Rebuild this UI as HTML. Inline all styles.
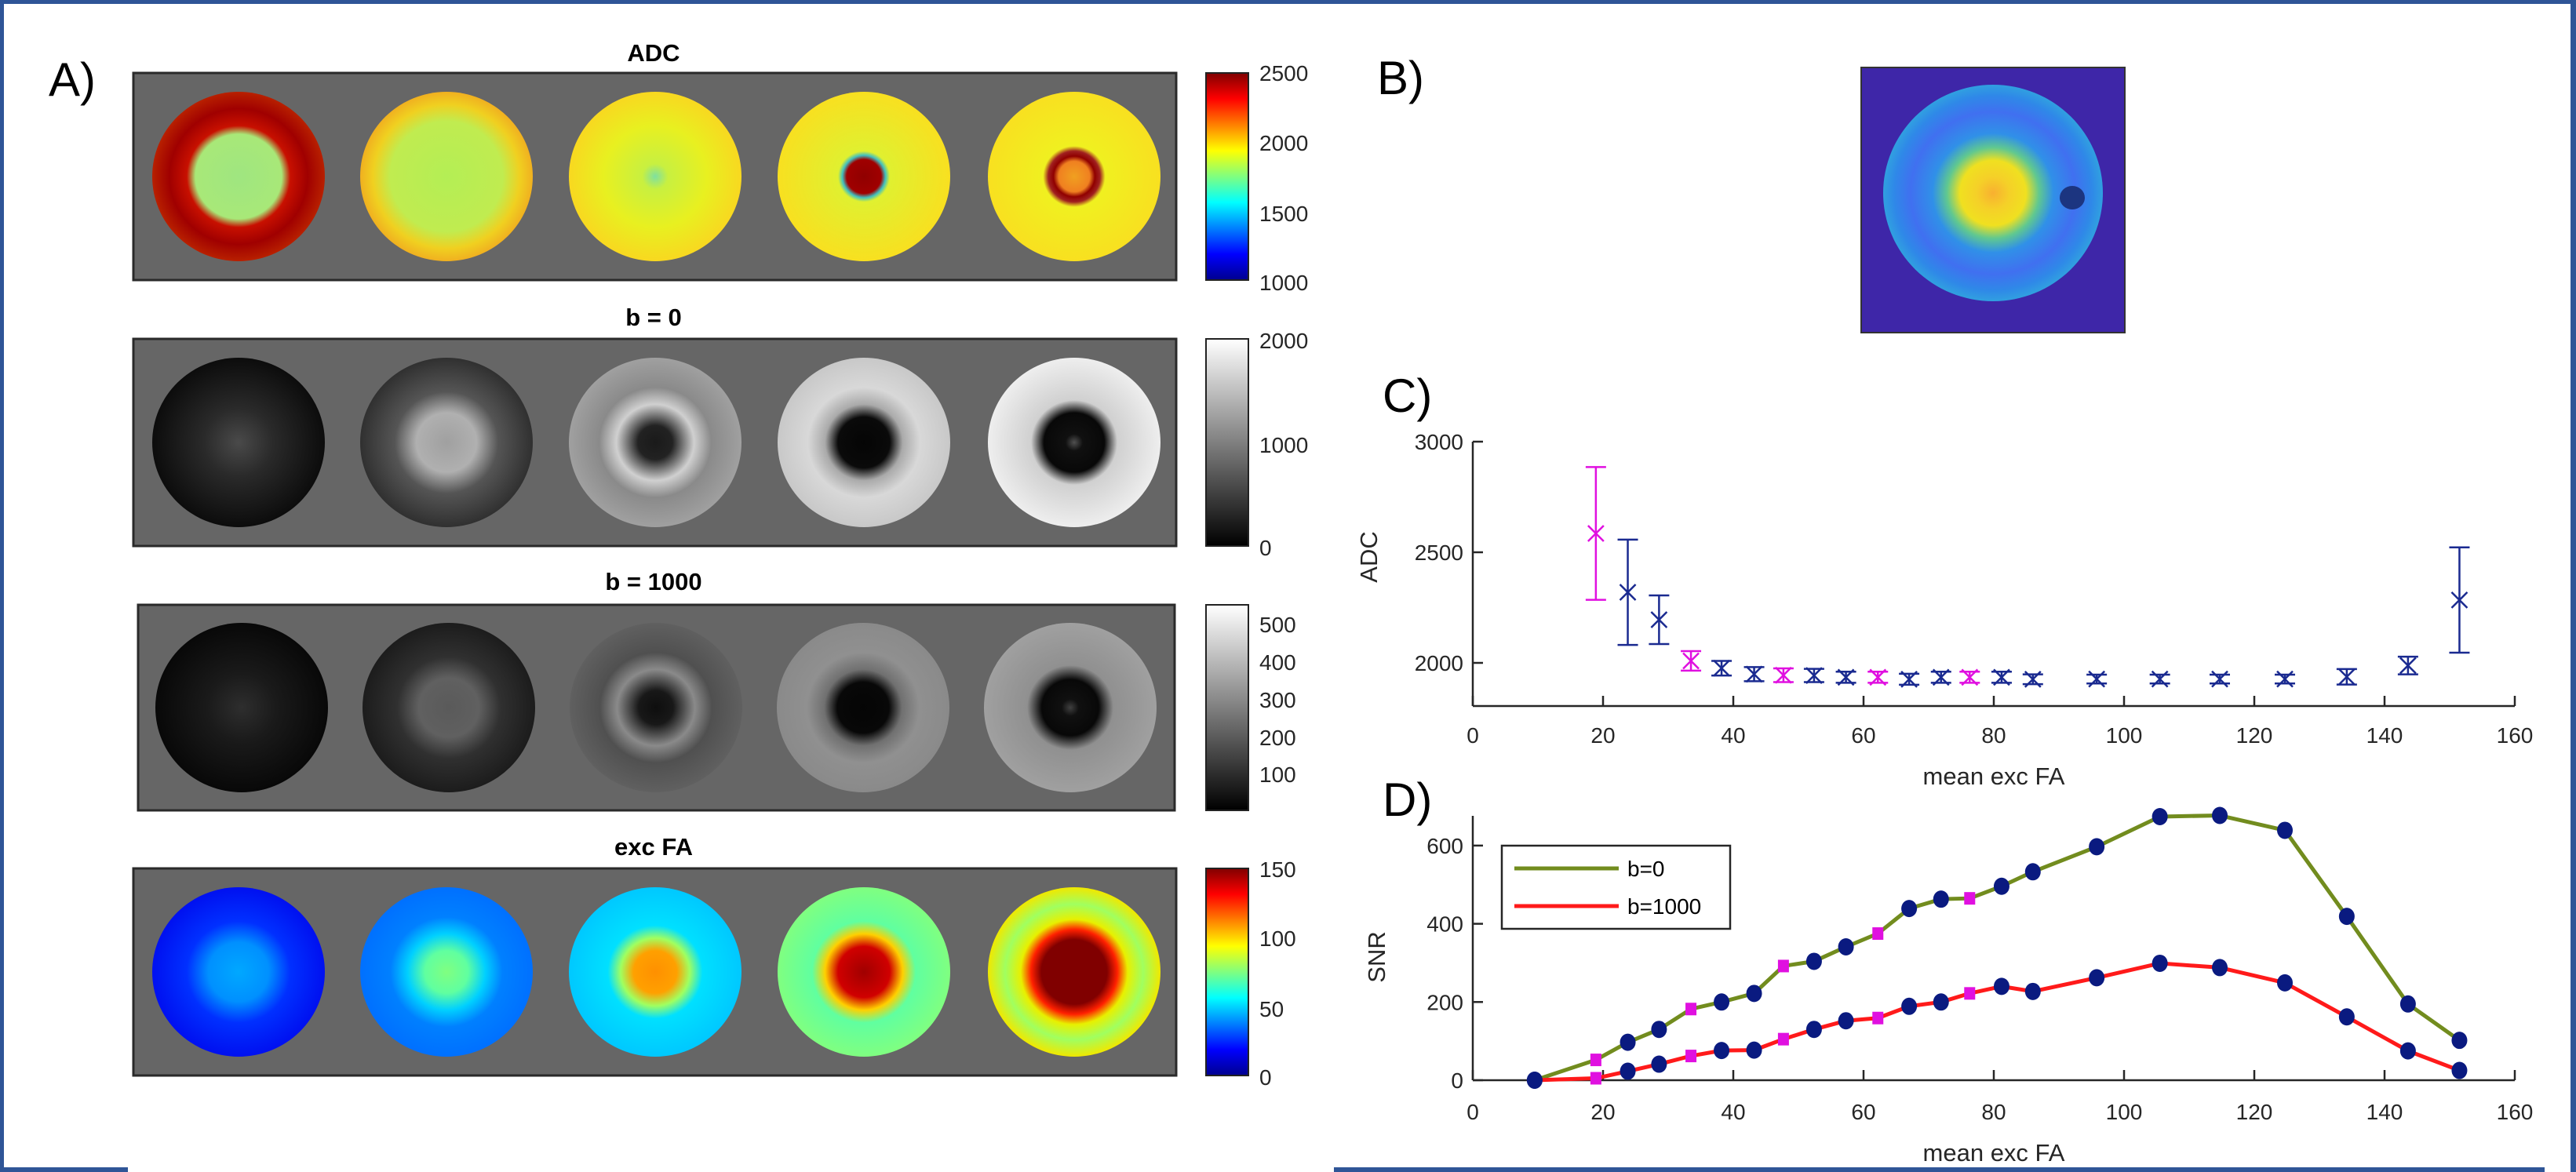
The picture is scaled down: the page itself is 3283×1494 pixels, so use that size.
<!DOCTYPE html>
<html><head><meta charset="utf-8"><style>
html,body{margin:0;padding:0;background:#fff;}
svg{display:block;font-family:"Liberation Sans",Arial,sans-serif;}
</style></head><body>
<svg id="fig" width="3283" height="1494" viewBox="0 0 3283 1494" xmlns="http://www.w3.org/2000/svg">
<defs>
<linearGradient id="jet" x1="0" y1="1" x2="0" y2="0">
<stop offset="0" stop-color="#00008f"/><stop offset="0.125" stop-color="#0000ff"/><stop offset="0.375" stop-color="#00ffff"/><stop offset="0.625" stop-color="#ffff00"/><stop offset="0.875" stop-color="#ff0000"/><stop offset="1" stop-color="#800000"/></linearGradient>
<linearGradient id="gray" x1="0" y1="1" x2="0" y2="0"><stop offset="0" stop-color="#000"/><stop offset="1" stop-color="#fff"/></linearGradient>
</defs>
<g id="borders" fill="#2f5597">
<rect x="0" y="0" width="3283" height="5"/><rect x="0" y="0" width="5" height="1494"/><rect x="3276" y="0" width="7" height="1494"/>
<rect x="0" y="1488" width="163" height="6"/><rect x="1700" y="1488" width="1543" height="6"/></g>
<g id="left"></g>
<g id="bpanel"></g>
<g id="chartC"></g>
<g id="chartD"></g>
</svg>
<script>
const NS='http://www.w3.org/2000/svg';
function mk(parent,tag,attrs,txt){const e=document.createElementNS(NS,tag);for(const k in attrs)e.setAttribute(k,attrs[k]);if(txt!==undefined)e.textContent=txt;parent.appendChild(e);return e;}
const defs=document.querySelector('defs');
let gid=0;
function radial(stops){const id='rg'+(gid++);const g=mk(defs,'radialGradient',{id:id,cx:'0.5',cy:'0.5',r:'0.5'});stops.forEach(s=>mk(g,'stop',{offset:s[0],'stop-color':s[1]}));return id;}

// ---- Left panels A ----
const L=document.getElementById('left');
const a=mk(L,'text',{x:62,y:122,'font-size':60},'A)');


const panels=[
 {name:'adc',title:'ADC',ty:78,x:170,y:93,w:1329,h:264,cx:[304,569,835,1101,1369],cbar:'jet',labels:[['2500',93],['2000',182],['1500',272],['1000',360]],
  circ:[[[0,'#9fe680'],[0.5,'#a8e878'],[0.6,'#c81000'],[0.8,'#a00000'],[1,'#b82000']],
        [[0,'#b4ee55'],[0.65,'#c0ec50'],[0.85,'#f0d020'],[1,'#f0b020']],
        [[0,'#7fe0a0'],[0.15,'#c8f040'],[0.6,'#e8f020'],[1,'#f8d820']],
        [[0,'#900000'],[0.2,'#a00000'],[0.25,'#40c0c0'],[0.3,'#e0f030'],[1,'#f8e020']],
        [[0,'#f0a020'],[0.18,'#f08020'],[0.24,'#900000'],[0.3,'#a02020'],[0.36,'#f0f020'],[1,'#f8e020']]]},
 {name:'b0',title:'b = 0',ty:415,x:170,y:432,w:1329,h:264,cx:[304,569,835,1101,1369],cbar:'gray',labels:[['2000',434],['1000',567],['0',698]],
  circ:[[[0,'#4a4a4a'],[0.4,'#2a2a2a'],[1,'#0c0c0c']],
        [[0,'#a0a0a0'],[0.35,'#b0b0b0'],[0.6,'#555'],[1,'#303030']],
        [[0,'#1a1a1a'],[0.2,'#222'],[0.45,'#d0d0d0'],[0.65,'#8a8a8a'],[1,'#a0a0a0']],
        [[0,'#050505'],[0.3,'#0a0a0a'],[0.45,'#aaa'],[0.65,'#d8d8d8'],[1,'#c8c8c8']],
        [[0,'#505050'],[0.1,'#101010'],[0.35,'#080808'],[0.5,'#d0d0d0'],[1,'#eeeeee']]]},
 {name:'b1000',title:'b = 1000',ty:752,x:176,y:771,w:1321,h:262,cx:[308,572,836,1100,1364],cbar:'gray',labels:[['500',796],['400',844],['300',892],['200',940],['100',987]],
  circ:[[[0,'#2e2e2e'],[0.4,'#1a1a1a'],[1,'#080808']],
        [[0,'#5a5a5a'],[0.35,'#606060'],[0.6,'#303030'],[1,'#1c1c1c']],
        [[0,'#0e0e0e'],[0.2,'#181818'],[0.45,'#8a8a8a'],[0.65,'#505050'],[1,'#606060']],
        [[0,'#050505'],[0.3,'#080808'],[0.45,'#707070'],[0.65,'#909090'],[1,'#8a8a8a']],
        [[0,'#404040'],[0.1,'#101010'],[0.33,'#080808'],[0.5,'#909090'],[1,'#a0a0a0']]]},
 {name:'excfa',title:'exc FA',ty:1090,x:170,y:1107,w:1329,h:264,cx:[304,569,835,1101,1369],cbar:'jet',labels:[['150',1108],['100',1196],['50',1286],['0',1373]],
  circ:[[[0,'#00a8ff'],[0.35,'#0090ff'],[0.6,'#0030ff'],[1,'#0010f0']],
        [[0,'#80ff80'],[0.25,'#60ffa0'],[0.45,'#00d0ff'],[0.65,'#0080ff'],[1,'#0070ff']],
        [[0,'#ff9000'],[0.25,'#ffa000'],[0.4,'#a0ff60'],[0.55,'#00e0ff'],[1,'#00c8ff']],
        [[0,'#a00000'],[0.3,'#d00000'],[0.45,'#ffd000'],[0.6,'#60ffa0'],[1,'#80ff80']],
        [[0,'#800000'],[0.38,'#800000'],[0.5,'#ff2000'],[0.62,'#e8f000'],[0.8,'#a0ff60'],[1,'#f0e800']]]}
];
panels.forEach(p=>{
  const g=mk(L,'g',{});
  
  
  const t=mk(g,'text',{x:833,y:p.ty,'font-size':31,'font-weight':'bold','text-anchor':'middle'},p.title);
  
  
  mk(g,'rect',{x:p.x,y:p.y,width:p.w,height:p.h,fill:'#666666',stroke:'#2a2a2a','stroke-width':3});
  const cy=p.y+p.h/2;
  p.cx.forEach((cx,i)=>{
    const id=radial(p.circ[i]);
    const c=mk(g,'ellipse',{cx:cx,cy:cy,rx:110,ry:108,fill:'url(#'+id+')'});
    
    
  });
  const cb=mk(g,'rect',{x:1537,y:p.y,width:54,height:p.h,fill:p.cbar==='jet'?'url(#jet)':'url(#gray)',stroke:'#222','stroke-width':2});
  
  
  p.labels.forEach(l=>{const tx=mk(g,'text',{x:1605,y:l[1]+10,'font-size':28,fill:'#262626'},l[0]);
    
    });
});

// ---- Panel B ----
const B=document.getElementById('bpanel');
const bl=mk(B,'text',{x:1755,y:120,'font-size':60},'B)');


mk(B,'rect',{x:2372,y:86,width:336,height:338,fill:'#3e26a8',stroke:'#333','stroke-width':2});
const bid=radial([[0,'#f8b030'],[0.15,'#f5d028'],[0.3,'#f0e020'],[0.42,'#60c890'],[0.55,'#3090e8'],[0.75,'#4070f0'],[0.9,'#2f88e8'],[1,'#30a0e0']]);
const bimg=mk(B,'ellipse',{cx:2540,cy:246,rx:140,ry:138,fill:'url(#'+bid+')'});


mk(B,'ellipse',{cx:2641,cy:252,rx:16,ry:15,fill:'#1c3580'});

// ---- Shared axes ----
const X0=1877,X1=3205,XMIN=0,XMAX=160;
const xTicks=[0,20,40,60,80,100,120,140,160];
function sx(v){return X0+(v-XMIN)/(XMAX-XMIN)*(X1-X0);}

// ---- Chart C data ----
const cFA=[18.9,23.8,28.6,33.5,38.2,43.2,47.7,52.4,57.3,62.2,67.0,71.9,76.3,81.2,86.0,95.8,105.5,114.7,124.7,134.2,143.6,151.5];
const cADC=[2585,2319,2195,2009,1976,1949,1944,1943,1935,1935,1926,1935,1935,1935,1926,1927,1927,1927,1927,1937,1988,2284];
const cErr=[300,238,110,44,33,32,31,30,25,25,25,25,25,25,22,20,20,20,20,35,40,238];
const cMagenta=[1,0,0,1,0,0,1,0,0,1,0,0,1,0,0,0,0,0,0,0,0,0];
const cYTicks=[2000,2500,3000];
const CYMIN=1805,CYMAX=3000,CY0=900,CY1=563;
function syC(v){return CY0-(v-CYMIN)/(CYMAX-CYMIN)*(CY0-CY1);}
const C=document.getElementById('chartC');
const cl=mk(C,'text',{x:1762,y:525,'font-size':60},'C)');


function axes(G,y0,y1,yTicks,sy,xlabelY,xtickY,ylabel,ylx,yly,pfx){
  mk(G,'line',{x1:X0,y1:y0,x2:X0,y2:y1,stroke:'#262626','stroke-width':2.5});
  mk(G,'line',{x1:X0,y1:y0,x2:X1,y2:y0,stroke:'#262626','stroke-width':2.5});
  xTicks.forEach(v=>{mk(G,'line',{x1:sx(v),y1:y0,x2:sx(v),y2:y0-13,stroke:'#262626','stroke-width':2.5});
    const t=mk(G,'text',{x:sx(v),y:xtickY,'font-size':28,fill:'#262626','text-anchor':'middle'},String(v));
    
    });
  yTicks.forEach(v=>{mk(G,'line',{x1:X0,y1:sy(v),x2:X0+13,y2:sy(v),stroke:'#262626','stroke-width':2.5});
    const t=mk(G,'text',{x:X0-12,y:sy(v)+10,'font-size':28,fill:'#262626','text-anchor':'end'},String(v));
    
    });
  const xl=mk(G,'text',{x:(X0+X1)/2,y:xlabelY,'font-size':31,fill:'#262626','text-anchor':'middle'},'mean exc FA');
  
  
  const yl=mk(G,'text',{x:ylx,y:yly,'font-size':31,fill:'#262626','text-anchor':'middle',transform:'rotate(-90 '+ylx+' '+yly+')'},ylabel);
  
  
}
axes(C,CY0,CY1,cYTicks,syC,1000,947,'ADC',1755,710,'adc');
cFA.forEach((v,i)=>{
  const col=cMagenta[i]?'#e010e0':'#1a2a90';
  const g=mk(C,'g',{stroke:col,'stroke-width':2.5,fill:'none'});
  
  
  const x=sx(v),y=syC(cADC[i]),yh=syC(cADC[i]+cErr[i]),yl=syC(cADC[i]-cErr[i]);
  mk(g,'line',{x1:x,y1:yh,x2:x,y2:yl});
  mk(g,'line',{x1:x-13,y1:yh,x2:x+13,y2:yh});
  mk(g,'line',{x1:x-13,y1:yl,x2:x+13,y2:yl});
  mk(g,'path',{d:`M${x-10} ${y-10}L${x+10} ${y+10}M${x-10} ${y+10}L${x+10} ${y-10}`});
});

// ---- Chart D data ----
const dFA=[9.5,18.9,23.8,28.6,33.5,38.2,43.2,47.7,52.4,57.3,62.2,67.0,71.9,76.3,81.2,86.0,95.8,105.5,114.7,124.7,134.2,143.6,151.5];
const snrB0=[0,52,97,130,182,200,222,292,304,341,375,439,463,465,496,533,597,674,677,639,419,195,102];
const snrB1000=[0,5,23,41,62,76,77,105,130,152,159,189,200,222,240,227,262,299,288,249,162,75,25];
const dMagenta=[0,1,0,0,1,0,0,1,0,0,1,0,0,1,0,0,0,0,0,0,0,0,0];
const dYTicks=[0,200,400,600];
const DYMIN=0,DYMAX=676,DY0=1377,DY1=1040;
function syD(v){return DY0-(v-DYMIN)/(DYMAX-DYMIN)*(DY0-DY1);}
const D=document.getElementById('chartD');
const dl=mk(D,'text',{x:1762,y:1040,'font-size':60},'D)');


axes(D,DY0,DY1,dYTicks,syD,1480,1427,'SNR',1765,1220,'snr');
function series(vals,col,name){
  const pts=dFA.map((v,i)=>sx(v)+','+syD(vals[i])).join(' ');
  const pl=mk(D,'polyline',{points:pts,fill:'none',stroke:col,'stroke-width':5,'stroke-linejoin':'round'});
  
  
}
series(snrB0,'#728c1e','snr-b0');
series(snrB1000,'#ff1a1a','snr-b1000');
[snrB0,snrB1000].forEach((vals,si)=>{
  dFA.forEach((v,i)=>{
    const x=sx(v),y=syD(vals[i]);
    let m;
    if(dMagenta[i]) m=mk(D,'rect',{x:x-7,y:y-8,width:14,height:16,fill:'#e010e0'});
    else m=mk(D,'ellipse',{cx:x,cy:y,rx:10,ry:11,fill:'#0a1a80'});
    
    
  });
});
const lg=mk(D,'g',{});


mk(lg,'rect',{x:1914,y:1078,width:291,height:106,fill:'#fff',stroke:'#262626','stroke-width':2.5});
mk(lg,'line',{x1:1930,y1:1107,x2:2063,y2:1107,stroke:'#728c1e','stroke-width':5});
mk(lg,'line',{x1:1930,y1:1155,x2:2063,y2:1155,stroke:'#ff1a1a','stroke-width':5});
const le1=mk(lg,'text',{x:2074,y:1117,'font-size':28,fill:'#000'},'b=0');


const le2=mk(lg,'text',{x:2074,y:1165,'font-size':28,fill:'#000'},'b=1000');


</script>
</body></html>
